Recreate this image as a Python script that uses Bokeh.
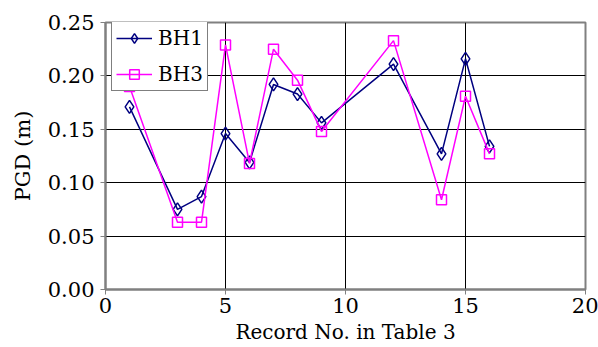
from bokeh.plotting import figure
from bokeh.models import Range1d, FixedTicker, Legend, LegendItem, CustomJSTickFormatter
from bokeh.embed import file_html
from bokeh.resources import INLINE

# Record numbers and peak ground displacement (m) for two boreholes
records = [1, 3, 4, 5, 6, 7, 8, 9, 12, 14, 15, 16]
bh1 = [0.171, 0.075, 0.087, 0.146, 0.119, 0.192, 0.183, 0.156, 0.211, 0.127, 0.216, 0.134]
bh3 = [0.190, 0.063, 0.063, 0.229, 0.118, 0.225, 0.196, 0.148, 0.233, 0.084, 0.181, 0.127]

x_ticks = [0, 5, 10, 15, 20]
y_ticks = [0.0, 0.05, 0.10, 0.15, 0.20, 0.25]

FONT = "DejaVu Serif"

p = figure(width=598, height=347, output_backend="svg", toolbar_location=None,
           x_range=Range1d(0, 20), y_range=Range1d(0, 0.25),
           min_border_left=105, min_border_right=13, min_border_top=22, min_border_bottom=58)
p.background_fill_color = "white"
p.border_fill_color = "white"
p.outline_line_color = "#808080"
p.outline_line_width = 2

# grid
p.xgrid.ticker = FixedTicker(ticks=x_ticks)
p.ygrid.ticker = FixedTicker(ticks=y_ticks)
for g in (p.xgrid, p.ygrid):
    g.grid_line_color = "black"
    g.grid_line_width = 1
    g.grid_line_alpha = 1.0

# axes
p.xaxis.ticker = FixedTicker(ticks=x_ticks)
p.yaxis.ticker = FixedTicker(ticks=y_ticks)
p.yaxis.formatter = CustomJSTickFormatter(code="return tick.toFixed(2);")
for ax in (p.xaxis, p.yaxis):
    ax.axis_line_color = "#808080"
    ax.axis_line_width = 2
    ax.major_tick_line_color = "#808080"
    ax.major_tick_out = 5
    ax.major_tick_in = 0
    ax.minor_tick_line_color = None
    ax.major_label_text_font = FONT
    ax.major_label_text_font_size = "21px"
    ax.major_label_text_color = "black"
    ax.axis_label_text_font = FONT
    ax.axis_label_text_font_style = "normal"
    ax.axis_label_text_color = "black"
p.xaxis.axis_label_text_font_size = "20px"
p.yaxis.axis_label_text_font_size = "21px"
p.xaxis.axis_label = "Record No. in Table 3"
p.yaxis.axis_label = "PGD (m)"
p.xaxis.major_label_standoff = 3
p.yaxis.major_label_standoff = 6
p.xaxis.axis_label_standoff = 4
p.yaxis.axis_label_standoff = 10

# series
l1 = p.line(records, bh1, line_color="#000080", line_width=1.5)
m1 = p.scatter(records, bh1, marker="diamond", size=13, line_color="#000080",
               fill_color=None, line_width=1.5)
l3 = p.line(records, bh3, line_color="#FF00FF", line_width=1.5)
m3 = p.scatter(records, bh3, marker="square", size=10, line_color="#FF00FF",
               fill_color=None, line_width=1.5)

legend = Legend(items=[LegendItem(label="BH1", renderers=[l1, m1]),
                       LegendItem(label="BH3", renderers=[l3, m3])],
                location=(6, 198))
legend.label_text_font = FONT
legend.label_text_font_size = "20px"
legend.label_text_color = "black"
legend.border_line_color = "black"
legend.border_line_width = 1
legend.background_fill_color = "white"
legend.background_fill_alpha = 1.0
legend.glyph_width = 36
legend.glyph_height = 24
legend.label_height = 24
legend.spacing = 12
legend.padding = 4
legend.margin = 0
legend.label_standoff = 6
p.add_layout(legend)

open("out.html", "w").write(file_html(p, INLINE))
